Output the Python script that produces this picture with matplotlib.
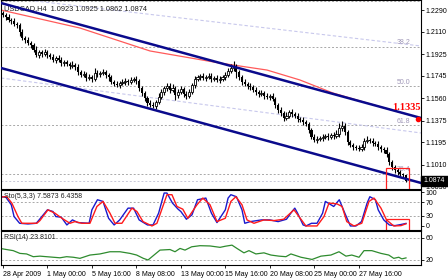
import matplotlib.pyplot as plt
from matplotlib.patches import Rectangle
import numpy as np

plt.rcParams['font.family'] = ['Liberation Sans', 'DejaVu Sans']

# USDCAD H4 closes, one per bar (bar 0 = 28 Apr 2009 08:00)
CLOSE = [
    1.2249, 1.2232, 1.2207, 1.2199, 1.2174, 1.2166, 1.2108, 1.2058, 1.2042, 1.2017,
    1.2000, 1.1959, 1.1918, 1.1942, 1.1926, 1.1942, 1.1918, 1.1901, 1.1876, 1.1893,
    1.1876, 1.1851, 1.1860, 1.1843, 1.1827, 1.1835, 1.1818, 1.1777, 1.1752, 1.1760,
    1.1727, 1.1735, 1.1719, 1.1769, 1.1760, 1.1769, 1.1777, 1.1752, 1.1735, 1.1694,
    1.1678, 1.1669, 1.1686, 1.1694, 1.1702, 1.1694, 1.1711, 1.1719, 1.1702, 1.1644,
    1.1603, 1.1562, 1.1520, 1.1504, 1.1495, 1.1528, 1.1570, 1.1611, 1.1644, 1.1661,
    1.1628, 1.1644, 1.1586, 1.1611, 1.1636, 1.1595, 1.1578, 1.1611, 1.1669, 1.1719,
    1.1735, 1.1744, 1.1727, 1.1735, 1.1744, 1.1719, 1.1727, 1.1711, 1.1719, 1.1735,
    1.1752, 1.1785, 1.1810, 1.1818, 1.1777, 1.1735, 1.1694, 1.1678, 1.1661, 1.1653,
    1.1628, 1.1611, 1.1595, 1.1603, 1.1578, 1.1570, 1.1578, 1.1553, 1.1504, 1.1462,
    1.1437, 1.1396, 1.1413, 1.1446, 1.1429, 1.1413, 1.1388, 1.1379, 1.1363, 1.1346,
    1.1297, 1.1239, 1.1214, 1.1222, 1.1230, 1.1239, 1.1247, 1.1239, 1.1255, 1.1247,
    1.1264, 1.1313, 1.1330, 1.1280, 1.1197, 1.1172, 1.1156, 1.1148, 1.1139, 1.1156,
    1.1206, 1.1214, 1.1206, 1.1189, 1.1181, 1.1156, 1.1139, 1.1131, 1.1098, 1.1032,
    1.0990, 1.0965, 1.0945, 1.0930, 1.0923, 1.0874,
]
FIRST_OPEN = 1.2262
# wick lengths in pips above / below the body
WICK_UP = [
    24, 18, 22, 14, 28, 19, 15, 23, 17, 25, 19, 13, 30, 21, 17, 27, 15, 19, 23, 17,
    21, 25, 15, 19, 17, 29, 13, 21, 19, 25, 17, 23, 19, 40, 21, 17, 25, 15, 19, 21,
    17, 25, 19, 21, 29, 17, 23, 19, 21, 15, 19, 17, 13, 21, 25, 19, 29, 23, 17, 25,
    21, 32, 19, 25, 21, 17, 23, 29, 19, 25, 21, 17, 25, 19, 23, 21, 17, 25, 21, 19,
    25, 29, 35, 50, 21, 17, 19, 23, 17, 21, 19, 25, 17, 21, 19, 23, 17, 21, 15, 19,
    25, 21, 29, 19, 23, 17, 21, 19, 23, 17, 19, 17, 21, 25, 19, 23, 17, 21, 19, 25,
    29, 38, 44, 21, 17, 19, 21, 17, 23, 25, 21, 29, 19, 23, 17, 21, 19, 17, 21, 15,
    19, 17, 21, 17, 13, 2,
]
WICK_DN = [
    17, 21, 15, 25, 19, 23, 29, 17, 21, 19, 25, 19, 17, 23, 21, 15, 25, 19, 17, 27,
    19, 21, 25, 17, 23, 19, 21, 25, 17, 19, 23, 17, 21, 19, 25, 21, 17, 23, 29, 19,
    21, 19, 25, 17, 21, 23, 19, 17, 25, 21, 29, 25, 21, 17, 19, 25, 17, 19, 21, 23,
    25, 19, 45, 21, 19, 23, 21, 17, 19, 21, 17, 23, 19, 21, 17, 25, 19, 21, 23, 17,
    21, 19, 17, 23, 48, 21, 25, 19, 21, 23, 19, 21, 25, 17, 23, 19, 21, 17, 25, 23,
    21, 29, 19, 21, 25, 19, 23, 17, 21, 19, 25, 21, 19, 23, 17, 21, 19, 25, 17, 21,
    19, 23, 21, 25, 21, 19, 23, 21, 17, 19, 23, 19, 21, 25, 19, 21, 23, 25, 21, 29,
    25, 21, 23, 19, 22, 12,
]

# moving average (red) and trend channel
MA_X = [-0.7, 27.7, 52.9, 78, 95, 106.8, 118.7, 131, 145]
MA_Y = [1.2290, 1.2141, 1.1951, 1.1851, 1.1793, 1.1711, 1.1603, 1.1520, 1.1429]
CHAN_X = [-0.7, 150.4]
CHAN_UP = [1.2348, 1.1396]
CHAN_LO = [1.1810, 1.0858]
FAINT_UP = [1.2398, 1.1992]
FAINT_LO = [1.1727, 1.1272]

FIB_LEVELS = [1.2361, 1.1984, 1.1661, 1.1335, 1.0935]
FIB_NAMES = ['', '38.2', '50.0', '61.8', '76.4']
LAST_PRICE = 1.0874
PRICE_TICKS = [1.2290, 1.2110, 1.1925, 1.1745, 1.1560, 1.1375, 1.1195, 1.1010, 1.0830]

# Stochastic(5,3,3)
K_X = [-1, 1, 3, 4, 6, 9, 12, 14, 16, 18, 19, 21, 23, 25, 27, 31, 32, 34, 36, 38,
       40, 42, 45, 47, 49, 52, 54, 56, 58, 59, 61, 63, 64, 66, 68, 70, 73, 75, 77, 80,
       81, 82, 84, 86, 87, 89, 93, 96, 99, 102, 104, 105, 106, 108, 109, 111, 113, 115, 116, 118,
       119, 121, 123, 125, 127, 129, 131, 132, 134, 135, 137, 139, 141, 143, 145]
K_V = [87, 86, 63, 28, 8, 6, 8, 28, 48, 43, 28, 26, 3, 18, 10, 8, 48, 78, 73, 23,
       3, 18, 53, 53, 18, 3, 3, 38, 98, 98, 68, 50, 43, 20, 33, 78, 83, 38, 10, 48,
       83, 93, 87, 48, 8, 13, 18, 18, 13, 20, 43, 53, 38, 3, 0, 8, 8, 38, 73, 63,
       58, 78, 38, 0, 0, 13, 68, 87, 78, 48, 18, 3, 1, 4, 7.5873]
D_X = [-1, 1.4, 3.2, 5.4, 6.8, 12.2, 13.3, 16.2, 18.7, 21.2, 24.1, 25.9, 28.4, 31.3, 33.8, 36, 38.5, 40.3, 42.8, 46.4,
       48.2, 50.4, 53.6, 55.4, 59, 60.8, 62.6, 64.7, 66.5, 69.8, 71.9, 74.5, 77, 80, 82, 83.8, 86, 87.8, 90.3, 93.9,
       97.5, 101, 104.7, 106.5, 109, 113, 115.5, 117.3, 120.1, 122, 123.7, 126.3, 129.1, 131.7, 133.5, 136, 138, 140.6, 143.2, 145]
D_V = [86, 87, 68, 28, 8, 8, 16, 48, 38, 23, 8, 13, 8, 8, 58, 73, 38, 8, 8, 53,
       43, 13, 0, 8, 93, 93, 58, 50, 23, 63, 83, 63, 13, 23, 73, 87, 63, 18, 8, 18,
       16, 20, 48, 28, 0, 0, 28, 68, 66, 58, 13, 0, 8, 73, 83, 53, 18, 0, 1, 6.4358]

# RSI(14)
RSI_X = [-1, 1.3, 3.7, 6.1, 8.5, 10.9, 13.3, 15.7, 18.1, 20.5, 22.9, 25.3, 27.7, 31.3, 34.9, 38.5, 42.1, 45.7, 48.1, 50.5,
         52.2, 56.5, 60.1, 61.9, 63.7, 65.5, 67.9, 70.9, 74.5, 78.1, 80, 82.4, 84.2, 86.7, 88.5, 91, 93.9, 96.4, 99.3, 101.8,
         103.6, 107.2, 111.2, 114.4, 118, 120.9, 123.4, 125.5, 128.1, 129.9, 132.7, 136, 138.8, 140.6, 142.4, 143.5, 145]
RSI_V = [41, 39, 37, 32, 31, 26, 27, 26, 25, 24, 26, 25, 23, 29, 31, 35, 35, 32, 29, 23,
         20, 38, 39, 35, 41, 38, 44, 46, 45.5, 43, 45, 47, 41, 33, 37, 31, 33, 29, 27, 26,
         31, 25, 21, 27, 29, 35, 27, 29, 25, 37, 37, 32, 29, 23, 25, 22, 23.8101]

DATE_POS = [0, 16, 32, 48, 64, 80, 96, 112, 128]
DATE_LABELS = ['28 Apr 2009', '1 May 00:00', '5 May 16:00', '8 May 08:00', '13 May 00:00',
               '15 May 16:00', '20 May 08:00', '25 May 00:00', '27 May 16:00']

W, H = 448, 280


def rect(x0, y0, x1, y1):
    return [x0 / W, 1 - y1 / H, (x1 - x0) / W, (y1 - y0) / H]


fig = plt.figure(figsize=(4.48, 2.8), dpi=100)
ax = fig.add_axes(rect(1, 0, 421, 189))
ax_s = fig.add_axes(rect(1, 190, 421, 230), sharex=ax)
ax_r = fig.add_axes(rect(1, 231, 421, 265), sharex=ax)

for a in (ax, ax_s, ax_r):
    for sp in a.spines.values():
        sp.set_color('black')
        sp.set_linewidth(0.8)
    a.yaxis.tick_right()
    a.tick_params(axis='y', direction='out', length=2, width=0.6, labelsize=5, pad=1.5)
    a.tick_params(axis='x', length=0, labelbottom=False)

# --- price panel
close = np.array(CLOSE)
opens = np.r_[FIRST_OPEN, close[:-1]]
hi = np.maximum(opens, close) + np.array(WICK_UP) * 1e-4
lo = np.minimum(opens, close) - np.array(WICK_DN) * 1e-4
idx = np.arange(len(close))

for lvl in FIB_LEVELS:
    ax.axhline(lvl, color='#a8a8a8', ls=(0, (2, 2)), lw=0.7, zorder=1)
ax.axhline(LAST_PRICE, color='#c8c8d8', ls=(0, (2, 2)), lw=0.7, zorder=1)
for lvl, name in zip(FIB_LEVELS, FIB_NAMES):
    if name:
        ax.text(141.5, lvl + 0.0004, name, fontsize=5, color='#a098b8', va='bottom', ha='left')

ax.plot(CHAN_X, FAINT_UP, color='#c8c8ec', lw=0.8, ls=(0, (3, 2)), zorder=1)
ax.plot(CHAN_X, FAINT_LO, color='#c8c8ec', lw=0.8, ls=(0, (3, 2)), zorder=1)

ax.vlines(idx, lo, hi, color='black', lw=0.8, zorder=3)
bear = close < opens
bull = ~bear
ax.bar(idx[bear], (opens - close)[bear], bottom=close[bear], width=0.75,
       color='black', lw=0, zorder=4)
ax.bar(idx[bull], (close - opens)[bull], bottom=opens[bull], width=0.75,
       color='white', edgecolor='black', lw=0.6, zorder=4)

ax.plot(MA_X, MA_Y, color='#ff5a5a', lw=0.9, zorder=2)
ax.plot(CHAN_X, CHAN_UP, color='#0a0a8c', lw=1.8, zorder=5)
ax.plot(CHAN_X, CHAN_LO, color='#0a0a8c', lw=1.8, zorder=5)

ax.add_patch(Rectangle((137.8, 1.0790), 8.2, 1.0982 - 1.0790, fill=False,
                       edgecolor='#ff2020', lw=0.9, zorder=6))
ax.plot([149.3], [1.1388], 'o', color='red', ms=3, zorder=7, clip_on=False)
ax.text(145.3, 1.1479, '1.1335', color='red', fontsize=7.5, fontweight='bold',
        family=['Liberation Serif', 'DejaVu Serif'], ha='center', va='center', zorder=7)

ax.set_xlim(-0.7, 150.4)
ax.set_ylim(1.0808, 1.2373)
ax.set_yticks(PRICE_TICKS)
ax.set_yticklabels(['%.4f' % p for p in PRICE_TICKS])

ax.text(0.007, 0.975, 'USDCAD,H4  1.0923 1.0925 1.0862 1.0874', transform=ax.transAxes,
        fontsize=5.3, color='#202020', va='top', ha='left')

# current price marker on the axis
fig.patches.append(Rectangle((421 / W, 1 - 186 / H), 27 / W, 10 / H, transform=fig.transFigure,
                             facecolor='black', edgecolor='black', zorder=10))
fig.text(423.5 / W, 1 - 181 / H, '%.4f' % LAST_PRICE, color='white', fontsize=5,
         va='center', ha='left', zorder=11)

# --- stochastic panel
ax_s.axhline(70, color='#a8a8a8', ls=(0, (2, 2)), lw=0.7)
ax_s.axhline(30, color='#a8a8a8', ls=(0, (2, 2)), lw=0.7)
ax_s.plot(K_X, K_V, color='#1a1acd', lw=1.0)
ax_s.plot(D_X, D_V, color='#ff1a1a', lw=1.0)
ax_s.add_patch(Rectangle((137.8, -14), 8.2, 35, fill=False, edgecolor='#ff2020', lw=0.9))
ax_s.set_ylim(-12, 107)
ax_s.set_yticks([0, 30, 70, 100])
ax_s.set_yticklabels(['0', '30', '70', '100'])
ax_s.text(0.007, 0.93, 'Sto(5,3,3) 7.5873 6.4358', transform=ax_s.transAxes,
          fontsize=5, color='#202020', va='top', ha='left')

# --- RSI panel
ax_r.axhline(60, color='#a8a8a8', ls=(0, (2, 2)), lw=0.7)
ax_r.axhline(20, color='#a8a8a8', ls=(0, (2, 2)), lw=0.7)
ax_r.plot(RSI_X, RSI_V, color='#2e8b2e', lw=0.9)
ax_r.set_ylim(10.9, 72.7)
ax_r.set_yticks([20, 60])
ax_r.set_yticklabels(['20', '60'])
ax_r.text(0.007, 0.9, 'RSI(14) 23.8101', transform=ax_r.transAxes,
          fontsize=5, color='#202020', va='top', ha='left')

ax_r.set_xticks(DATE_POS)
ax_r.set_xticklabels(DATE_LABELS, ha='left')
ax_r.tick_params(axis='x', length=2.5, width=0.6, labelbottom=True, labelsize=5, pad=1.5)

fig.savefig('out.png', dpi=100)
